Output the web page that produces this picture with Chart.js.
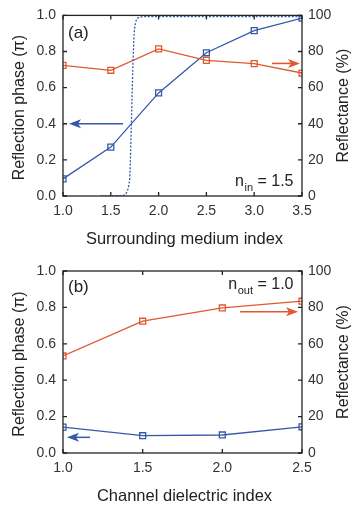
<!DOCTYPE html>
<html>
<head>
<meta charset="utf-8">
<script src="https://cdn.jsdelivr.net/npm/chart.js@4.4.1/dist/chart.umd.min.js"></script>
<style>
  body { margin: 0; background: #fff; }
  canvas { display: block; }
</style>
</head>
<body>
<canvas id="chartA" width="351" height="250"></canvas>
<canvas id="chartB" width="351" height="255"></canvas>
<script>
// ---- data ----
// panel (a): surrounding medium index
const xA = [1.0, 1.5, 2.0, 2.5, 3.0, 3.5];
const phaseA = [0.095, 0.271, 0.571, 0.793, 0.916, 0.985];
const reflA = [72.3, 69.6, 81.5, 75.1, 73.3, 68.1];
// dotted step curve (reflectance, right axis)
const stepX = [1.40, 1.60, 1.64, 1.67, 1.69, 1.70, 1.715, 1.73, 1.745, 1.76, 1.79, 1.82, 1.90, 2.5, 3.0, 3.5];
const stepR = [0, 0.2, 0.5, 2.5, 6.5, 12, 40, 70, 90, 96, 98.8, 99.2, 99.3, 99.3, 99.3, 99.3];

// panel (b): channel dielectric index
const xB = [1.0, 1.5, 2.0, 2.5];
const phaseB = [0.142, 0.095, 0.099, 0.144];
const reflB = [53.3, 72.4, 79.7, 83.4];

// tick labels
const xTicksA = [1.0, 1.5, 2.0, 2.5, 3.0, 3.5];
const xTicksB = [1.0, 1.5, 2.0, 2.5];
const phaseTicks = [0, 0.2, 0.4, 0.6, 0.8, 1.0];
const reflTicks = [0, 20, 40, 60, 80, 100];

const BLUE = '#3559a8';
const RED = '#e0582f';
const FRAME = '#222';
const FONT = "'Liberation Sans', Arial, sans-serif";

const pts = (xs, ys) => xs.map((x, i) => ({ x: x, y: ys[i] }));

// frame, inward ticks, arrows, titles and notes
const decor = {
  id: 'decor',
  afterDatasetsDraw(chart, args, opts) {
    const ctx = chart.ctx;
    const a = chart.chartArea;
    const sx = chart.scales.x, sy = chart.scales.y, sy1 = chart.scales.y1;
    ctx.save();

    // arrows
    opts.arrows.forEach(ar => {
      const ys = ar.axis === 'y1' ? sy1 : sy;
      const x0 = sx.getPixelForValue(ar.from);
      const x1 = sx.getPixelForValue(ar.to);
      const y = ys.getPixelForValue(ar.y);
      const d = Math.sign(x1 - x0);
      ctx.strokeStyle = ar.color;
      ctx.fillStyle = ar.color;
      ctx.lineWidth = 1.5;
      ctx.beginPath();
      ctx.moveTo(x0, y);
      ctx.lineTo(x1 - d * 8, y);
      ctx.stroke();
      ctx.beginPath();
      ctx.moveTo(x1, y);
      ctx.lineTo(x1 - d * 12, y - 4.5);
      ctx.lineTo(x1 - d * 9, y);
      ctx.lineTo(x1 - d * 12, y + 4.5);
      ctx.closePath();
      ctx.fill();
    });

    // box
    ctx.strokeStyle = FRAME;
    ctx.lineWidth = 1.3;
    ctx.strokeRect(a.left, a.top, a.right - a.left, a.bottom - a.top);

    // inward ticks on all sides
    ctx.beginPath();
    sx.ticks.forEach(t => {
      const p = sx.getPixelForValue(t.value);
      ctx.moveTo(p, a.bottom); ctx.lineTo(p, a.bottom - 4);
      ctx.moveTo(p, a.top); ctx.lineTo(p, a.top + 4);
    });
    sy.ticks.forEach(t => {
      const p = sy.getPixelForValue(t.value);
      ctx.moveTo(a.left, p); ctx.lineTo(a.left + 4, p);
    });
    sy1.ticks.forEach(t => {
      const p = sy1.getPixelForValue(t.value);
      ctx.moveTo(a.right, p); ctx.lineTo(a.right - 4, p);
    });
    ctx.stroke();

    // axis titles
    ctx.fillStyle = '#222';
    ctx.font = '16.5px ' + FONT;
    ctx.textAlign = 'center';
    ctx.textBaseline = 'middle';
    ctx.fillText(opts.xTitle, (a.left + a.right) / 2 + 2, a.bottom + 43);

    const cy = (a.top + a.bottom) / 2;
    ctx.font = '16px ' + FONT;
    ctx.save();
    ctx.translate(20, cy + 2);
    ctx.rotate(-Math.PI / 2);
    ctx.fillText('Reflection phase (\u03c0)', 0, 0);
    ctx.restore();
    ctx.save();
    ctx.translate(343.5, cy);
    ctx.rotate(-Math.PI / 2);
    ctx.fillText('Reflectance (%)', 0, 0);
    ctx.restore();

    // panel label
    ctx.font = '17px ' + FONT;
    ctx.textAlign = 'left';
    ctx.fillText(opts.panel, a.left + 5, a.top + opts.panelDy);

    // n_sub = value note, right aligned
    const big = '16px ' + FONT, small = '11px ' + FONT;
    ctx.textBaseline = 'alphabetic';
    ctx.font = big;
    const w1 = ctx.measureText('n').width;
    const w3 = ctx.measureText(opts.note[2]).width;
    ctx.font = small;
    const w2 = ctx.measureText(opts.note[1]).width;
    let x = a.right - 9 - (w1 + w2 + w3);
    const by = a.top + opts.noteDy;
    ctx.font = big;
    ctx.fillText('n', x, by);
    x += w1;
    ctx.font = small;
    ctx.fillText(opts.note[1], x + 0.5, by + 5);
    x += w2 + 0.5;
    ctx.font = big;
    ctx.fillText(opts.note[2], x, by);

    ctx.restore();
  }
};

function scales(xmin, xmax, xTicks, xHeight) {
  const tickFont = { family: FONT, size: 14 };
  const fixTicks = list => s => { s.ticks = list.map(v => ({ value: v })); };
  return {
    x: {
      type: 'linear', min: xmin, max: xmax,
      afterBuildTicks: fixTicks(xTicks),
      afterFit: s => { s.height = xHeight; },
      grid: { display: false, drawTicks: false },
      border: { display: false },
      ticks: { font: tickFont, color: '#333', padding: 7, maxRotation: 0, autoSkip: false,
               callback: v => v.toFixed(1) }
    },
    y: {
      type: 'linear', position: 'left', min: 0, max: 1,
      afterBuildTicks: fixTicks(phaseTicks),
      afterFit: s => { s.width = 63; },
      grid: { display: false, drawTicks: false },
      border: { display: false },
      ticks: { font: tickFont, color: '#333', padding: 7, callback: v => v.toFixed(1) }
    },
    y1: {
      type: 'linear', position: 'right', min: 0, max: 100,
      afterBuildTicks: fixTicks(reflTicks),
      afterFit: s => { s.width = 49; },
      grid: { display: false, drawTicks: false },
      border: { display: false },
      ticks: { font: tickFont, color: '#333', padding: 6, callback: v => String(v) }
    }
  };
}

function markerSeries(data, color, axis) {
  return {
    data: data,
    yAxisID: axis,
    borderColor: color,
    borderWidth: 1.3,
    pointStyle: 'rect',
    pointRadius: 4.2,
    pointBorderWidth: 1.3,
    pointBorderColor: color,
    pointBackgroundColor: 'rgba(0,0,0,0)',
    tension: 0,
    clip: 0
  };
}

const common = {
  responsive: false,
  animation: false,
  events: []
};

new Chart(document.getElementById('chartA'), {
  type: 'line',
  data: {
    datasets: [
      {
        data: pts(stepX, stepR),
        yAxisID: 'y1',
        borderColor: BLUE,
        borderWidth: 1.3,
        borderDash: [2, 1.6],
        pointRadius: 0,
        cubicInterpolationMode: 'monotone',
        clip: 0
      },
      markerSeries(pts(xA, reflA), RED, 'y1'),
      markerSeries(pts(xA, phaseA), BLUE, 'y')
    ]
  },
  options: Object.assign({}, common, {
    layout: { padding: { top: 14, left: 0, right: 0, bottom: 0 } },
    scales: scales(1.0, 3.5, xTicksA, 54),
    plugins: {
      legend: { display: false },
      tooltip: { enabled: false },
      decor: {
        panel: '(a)', panelDy: 18,
        note: ['n', 'in', ' = 1.5'], noteDy: 171,
        xTitle: 'Surrounding medium index',
        arrows: [
          { from: 1.628, to: 1.063, y: 0.4, axis: 'y', color: BLUE },
          { from: 3.186, to: 3.479, y: 73.4, axis: 'y1', color: RED }
        ]
      }
    }
  }),
  plugins: [decor]
});

new Chart(document.getElementById('chartB'), {
  type: 'line',
  data: {
    datasets: [
      markerSeries(pts(xB, reflB), RED, 'y1'),
      markerSeries(pts(xB, phaseB), BLUE, 'y')
    ]
  },
  options: Object.assign({}, common, {
    layout: { padding: { top: 21, left: 0, right: 0, bottom: 0 } },
    scales: scales(1.0, 2.5, xTicksB, 52),
    plugins: {
      legend: { display: false },
      tooltip: { enabled: false },
      decor: {
        panel: '(b)', panelDy: 16,
        note: ['n', 'out', ' = 1.0'], noteDy: 18,
        xTitle: 'Channel dielectric index',
        arrows: [
          { from: 2.111, to: 2.475, y: 77.6, axis: 'y1', color: RED },
          { from: 1.17, to: 1.025, y: 0.086, axis: 'y', color: BLUE }
        ]
      }
    }
  }),
  plugins: [decor]
});
</script>
</body>
</html>
